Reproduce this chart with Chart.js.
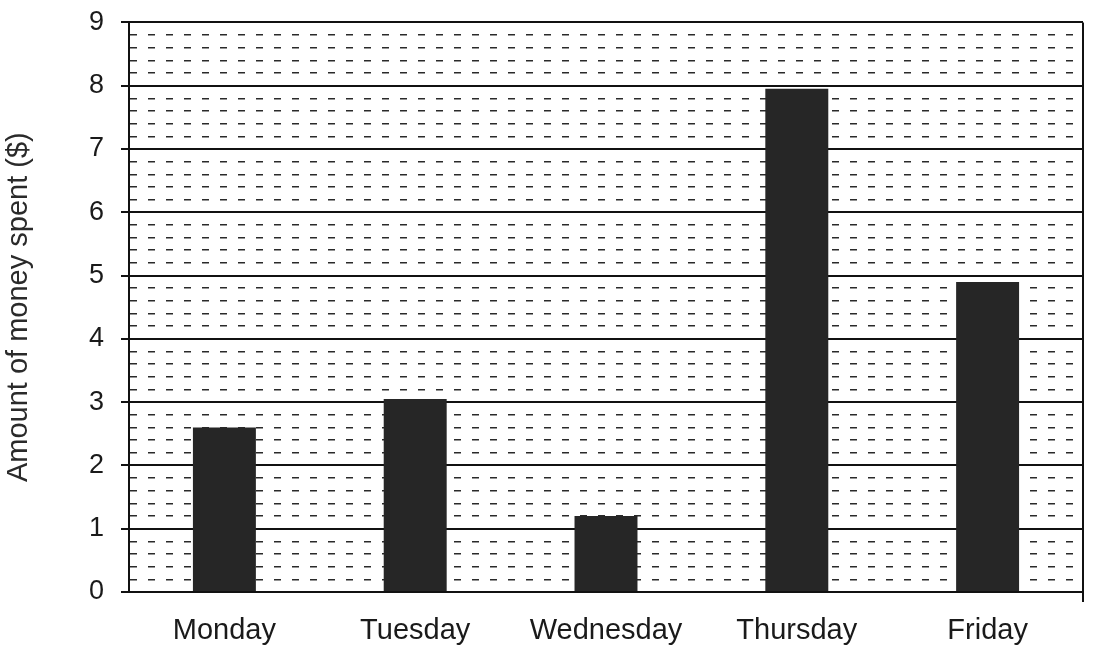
<!DOCTYPE html>
<html>
<head>
<meta charset="utf-8">
<script src="https://cdn.jsdelivr.net/npm/chart.js@4"></script>
<style>
  html, body { margin: 0; padding: 0; background: #ffffff; }
  #wrap { width: 1107px; height: 657px; position: relative; }
</style>
</head>
<body>
<div id="wrap"><canvas id="c"></canvas></div>
<script>
const categories = ["Monday", "Tuesday", "Wednesday", "Thursday", "Friday"];
const moneySpent = [2.6, 3.05, 1.2, 7.95, 4.9];
const yTitle = "Amount of money spent ($)";
const yMin = 0, yMax = 9, yMinorStep = 0.2;

const isMajor = v => Math.abs(v - Math.round(v)) < 1e-6;

new Chart(document.getElementById('c'), {
  type: 'bar',
  data: {
    labels: categories,
    datasets: [{
      data: moneySpent,
      backgroundColor: '#262626',
      borderWidth: 0,
      categoryPercentage: 1,
      barPercentage: 0.33
    }]
  },
  options: {
    responsive: true,
    maintainAspectRatio: false,
    animation: false,
    layout: { padding: { left: 2, top: 0, right: 24, bottom: 0 } },
    plugins: { legend: { display: false }, tooltip: { enabled: false } },
    scales: {
      x: {
        offset: true,
        grid: {
          offset: true,
          color: ctx => ctx.index === undefined ? '#111' : 'rgba(0,0,0,0)',
          lineWidth: 2,
          tickLength: 10,
          drawOnChartArea: true
        },
        border: { display: true, color: '#111', width: 2 },
        ticks: {
          color: '#1a1a1a',
          padding: 12,
          font: { family: 'Liberation Sans', size: 29 }
        },
        afterFit: s => { s.height = 65; }
      },
      y: {
        min: yMin,
        max: yMax,
        ticks: {
          stepSize: yMinorStep,
          autoSkip: false,
          maxTicksLimit: 1000,
          color: '#1a1a1a',
          padding: 17,
          font: { family: 'Liberation Sans', size: 27, lineHeight: 0.4 },
          callback: v => isMajor(v) ? String(Math.round(v)) : ''
        },
        grid: {
          color: ctx => isMajor(ctx.tick.value) ? '#111' : '#2a2a2a',
          lineWidth: ctx => isMajor(ctx.tick.value) ? 2 : 1.5,
          tickLength: 8,
          tickColor: ctx => isMajor(ctx.tick.value) ? '#111' : 'rgba(0,0,0,0)'
        },
        border: {
          display: true,
          color: '#111',
          width: 2,
          dash: ctx => (ctx.tick && isMajor(ctx.tick.value)) ? [] : [7, 11]
        },
        title: {
          display: true,
          text: yTitle,
          color: '#2a2a2a',
          padding: { top: 0, bottom: 10 },
          font: { family: 'Liberation Sans', size: 29 }
        },
        afterFit: s => { s.width = 127; }
      }
    }
  }
});
</script>
</body>
</html>
